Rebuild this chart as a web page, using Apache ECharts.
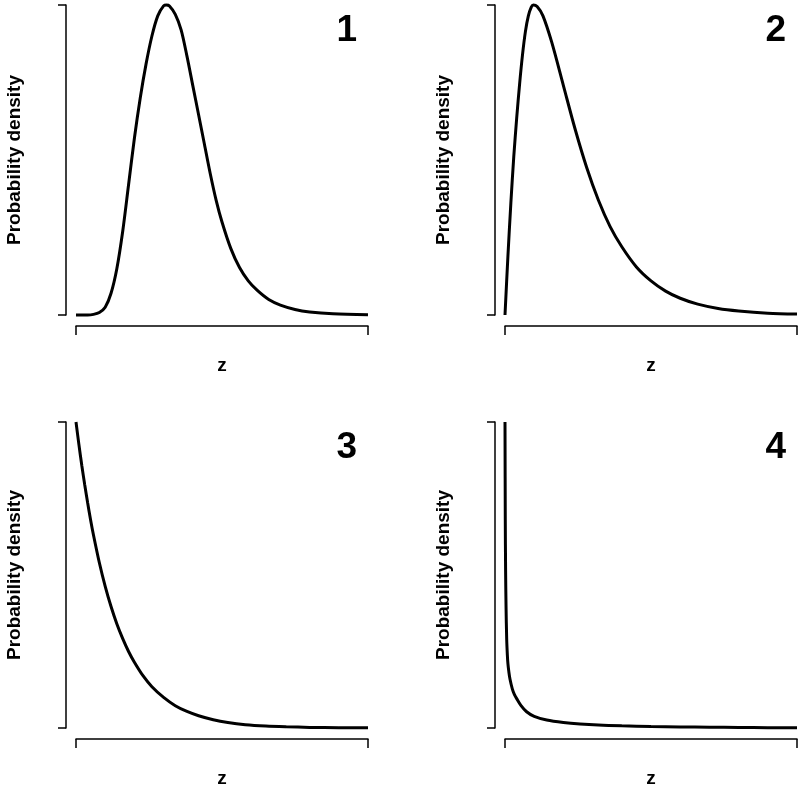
<!DOCTYPE html>
<html>
<head>
<meta charset="utf-8">
<script src="https://cdn.jsdelivr.net/npm/echarts@6/dist/echarts.min.js"></script>
<style>
html,body{margin:0;padding:0;background:#fff;}
#chart{width:800px;height:789px;}
</style>
</head>
<body>
<div id="chart"></div>
<script>
// Panel labels and axis titles
var panelLabels = ['1', '2', '3', '4'];
var xTitle = 'z';
var yTitle = 'Probability density';

// Panel 1 (z and relative density, peak = 100)
var z1 = [0, 4, 6, 8, 10, 12, 14, 16, 18, 20, 22, 24, 26, 28, 30, 31, 32, 34, 36, 38, 40, 42, 44, 46, 48, 50, 53, 56, 59, 62, 66, 70, 75, 80, 88, 100];
var d1 = [0, 0, 0.2, 0.8, 2.5, 7, 15, 27, 42, 57, 70, 81, 90, 96.5, 99.7, 100, 99.7, 97, 92, 83.5, 74, 64.5, 55, 45.5, 37, 30, 21.5, 15.3, 11, 8, 5, 3.2, 1.8, 1, 0.4, 0.1];

// Panel 2
var z2 = [0, 1, 2, 3, 4, 5, 6, 7, 8, 9, 9.7, 11, 13, 16, 20, 24, 28, 32, 36, 40, 45, 50, 55, 60, 66, 73, 80, 90, 100];
var d2 = [0, 19, 36, 51, 63.5, 74.5, 84, 91.5, 96.5, 99.3, 100, 99.5, 96.5, 88, 74, 60, 47.5, 37, 28.5, 22, 15.5, 11, 7.7, 5.4, 3.5, 2.1, 1.3, 0.6, 0.3];

// Panel 3
var z3 = [0, 1, 2, 3, 4, 5, 6, 8, 10, 12, 14, 16, 18, 20, 23, 26, 30, 34, 38, 42, 47, 52, 58, 65, 72, 80, 90, 100];
var d3 = [100, 92.6, 85.7, 79.4, 73.5, 68, 63, 54, 46.3, 39.7, 34, 29.2, 25, 21.5, 17, 13.5, 10, 7.3, 5.4, 4, 2.7, 1.8, 1.1, 0.65, 0.4, 0.2, 0.1, 0.05];

// Panel 4
var z4 = [0, 0.1, 0.2, 0.35, 0.58, 0.8, 1, 1.3, 1.7, 2.5, 3.2, 4, 5.5, 7.4, 10, 14.3, 20, 25.7, 32, 40, 50, 60, 70, 80, 90, 100];
var d4 = [100, 68, 52, 40, 29, 24, 21, 18.5, 16, 12.8, 11, 9.6, 7.3, 5.3, 3.8, 2.6, 1.8, 1.3, 0.95, 0.7, 0.5, 0.35, 0.25, 0.17, 0.1, 0.05];

var zs = [z1, z2, z3, z4];
var ds = [d1, d2, d3, d4];

var grids = [
  {left: 76, top: 5, width: 292, height: 310},
  {left: 505, top: 5, width: 292, height: 310},
  {left: 76, top: 422, width: 292, height: 311},
  {left: 505, top: 422, width: 292, height: 311}
];

var FONT = '"Liberation Sans", Arial, sans-serif';
var axisLineStyle = {color: '#000', width: 1.5};

var xAxes = [], yAxes = [], series = [], graphics = [];
for (var i = 0; i < 4; i++) {
  xAxes.push({
    gridIndex: i, type: 'value', min: 0, max: 100, interval: 100,
    offset: 11,
    axisLine: {show: true, onZero: false, lineStyle: axisLineStyle},
    axisTick: {show: true, length: 9, lineStyle: axisLineStyle},
    axisLabel: {show: false},
    splitLine: {show: false},
    name: xTitle, nameLocation: 'middle', nameGap: 30,
    nameTextStyle: {fontFamily: FONT, fontWeight: 'bold', fontSize: 19, color: '#000'}
  });
  yAxes.push({
    gridIndex: i, type: 'value', min: 0, max: 100, interval: 100,
    offset: 10,
    axisLine: {show: true, onZero: false, lineStyle: axisLineStyle},
    axisTick: {show: true, length: 8, lineStyle: axisLineStyle},
    axisLabel: {show: false},
    splitLine: {show: false},
    name: yTitle, nameLocation: 'middle', nameGap: 42,
    nameTextStyle: {fontFamily: FONT, fontWeight: 'bold', fontSize: 19, color: '#000'}
  });
  var pts = zs[i].map(function (z, k) { return [z, ds[i][k]]; });
  series.push({
    type: 'line', xAxisIndex: i, yAxisIndex: i, data: pts,
    showSymbol: false, smooth: 0.3, clip: false,
    lineStyle: {color: '#000', width: 3},
    silent: true
  });
  var g = grids[i];
  graphics.push({
    type: 'text',
    x: g.left + g.width - 11, y: g.top + 26,
    style: {
      text: panelLabels[i], fill: '#000',
      font: 'bold 37px ' + FONT,
      textAlign: 'right', textVerticalAlign: 'middle'
    }
  });
}

var chart = echarts.init(document.getElementById('chart'), null, {renderer: 'canvas'});
chart.setOption({
  animation: false,
  backgroundColor: '#fff',
  grid: grids,
  xAxis: xAxes,
  yAxis: yAxes,
  series: series,
  graphic: graphics
});
</script>
</body>
</html>
